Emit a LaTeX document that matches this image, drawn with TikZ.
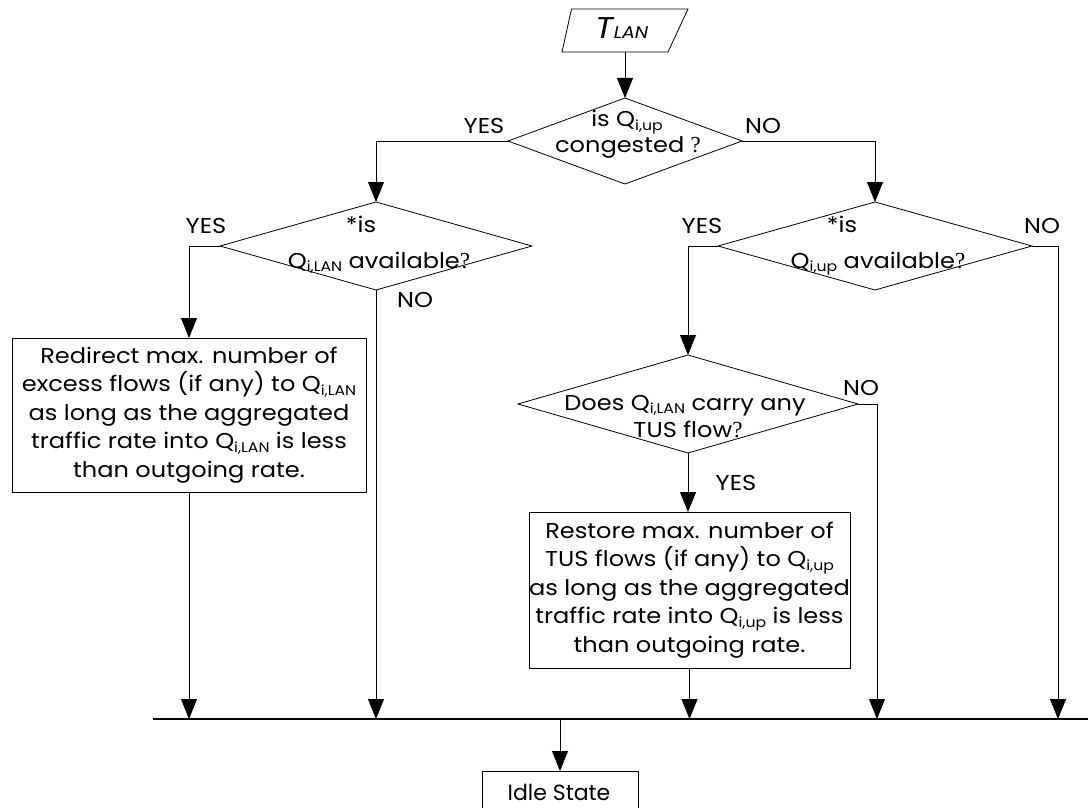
\documentclass[tikz,border=0pt]{standalone}
\usepackage{fontspec}
\setmainfont{Poppins}[FakeStretch=1.12]
\newfontfamily\idlefont{Poppins}
\newfontfamily\qmarkfont{Liberation Serif}
\usetikzlibrary{arrows.meta,shapes.geometric,calc}
% queue name with a lowered small subscript
\newcommand\Qsub[1]{Q\raisebox{-0.15em}{\fontsize{14}{14}\selectfont #1}}
\newcommand\qm{{\qmarkfont\fontsize{23}{23}\selectfont ?}}

\begin{document}
\begin{tikzpicture}[x=1pt,y=-1pt,
  every node/.style={font=\fontsize{21.5}{28.5}\selectfont, outer sep=0pt},
  flow/.style={line width=0.8pt, -{Triangle[width=16pt,length=20pt]}},
  link/.style={line width=0.8pt},
  decision/.style={diamond, draw, line width=0.8pt, inner sep=0pt},
  procbox/.style={draw, line width=0.8pt, inner sep=0pt, align=center},
  lbl/.style={anchor=base, inner sep=0pt}]

\useasboundingbox (0,0) rectangle (1088,808);
\clip (0,0) rectangle (1088,808);

% input symbol
\node[minimum width=106pt, minimum height=43pt, inner sep=0pt] (tlan) at (625,30.5) {};
\draw[line width=0.8pt] ($(tlan.north west)+(-0.5,0)$) -- ($(tlan.north east)+(10,0)$)
  -- ($(tlan.south east)+(-10,0)$) -- ($(tlan.south west)+(-10,0)$) -- cycle;
\node[lbl] (tlantext) at (622,39) {\itshape\fontsize{30}{30}\selectfont T\fontsize{17}{17}\selectfont LAN};

% decisions
\node[decision, minimum width=234pt, minimum height=86pt] (d1) at (625,141) {};
\node[lbl] (d1a) at (627,127) {is \Qsub{i,up}};
\node[lbl] (d1b) at (628,153) {congested \qm};

\node[decision, minimum width=312pt, minimum height=88pt] (d2) at (376,246) {};
\node[lbl] (d2a) at (361,232) {*is};
\node[lbl] (d2b) at (379,268) {\Qsub{i,LAN} available\qm};

\node[decision, minimum width=314pt, minimum height=88pt] (d3) at (875,246) {};
\node[lbl] (d3a) at (842,232) {*is};
\node[lbl] (d3b) at (878,268) {\Qsub{i,up} available\qm};

\node[decision, minimum width=340pt, minimum height=98pt] (d4) at (688,404) {};
\node[lbl] (d4a) at (685,410) {Does \Qsub{i,LAN} carry any};
\node[lbl] (d4b) at (688,437) {TUS flow\qm};

% actions
\node[procbox, minimum width=354pt, minimum height=154pt] (b1) at (189,415)
  {Redirect max. number of\\excess flows (if any) to \Qsub{i,LAN}\\as long as the aggregated\\traffic rate into \Qsub{i,LAN} is less\\than outgoing rate.};
\node[procbox, minimum width=315pt, minimum height=156pt] (b2) at (689.5,590)
  {Restore max. number of\\TUS flows (if any) to \Qsub{i,up}\\as long as the aggregated\\traffic rate into \Qsub{i,up} is less\\than outgoing rate.};

\node[draw, line width=0.8pt, minimum width=156pt, minimum height=74pt, anchor=north] (idle) at (560,771) {};
\node[lbl] (idletext) at (559,800) {\idlefont\fontsize{22}{22}\selectfont Idle State};

% branch labels
\node[lbl] (y1) at (484,133) {YES};
\node[lbl] (n1) at (763,133) {NO};
\node[lbl] (y2) at (206,233) {YES};
\node[lbl] (n2) at (415,307) {NO};
\node[lbl] (y3) at (702,233) {YES};
\node[lbl] (n3) at (1042,233) {NO};
\node[lbl] (n4) at (861,395) {NO};
\node[lbl] (y4) at (736,490) {YES};

% merge line
\coordinate (busL) at (153,719);
\coordinate (busR) at (1088,719);
\coordinate (d3no) at (1058,246);
\coordinate (d4no) at (877,404);
\draw[line width=1.3pt] (busL) -- (busR);

% connectors
\draw[flow] (tlan.south) -- (d1.north);
\draw[flow] (d1.west) -| (d2.north);
\draw[flow] (d1.east) -| (d3.north);
\draw[flow] (d2.west) -| (b1.north);
\draw[flow] (d2.south) -- (d2.south |- busL);
\draw[flow] (b1.south) -- (b1.south |- busL);
\draw[flow] (d3.west) -| (d4.north);
\draw[flow] (d3.east) -- (d3no) -- (d3no |- busL);
\draw[flow] (d4.east) -- (d4no) -- (d4no |- busL);
\draw[flow] (d4.south) -- (d4.south |- b2.north);
\draw[flow] (b2.south) -- (b2.south |- busL);
\draw[flow] (idle.north |- busL) -- (idle.north);
\end{tikzpicture}
\end{document}
